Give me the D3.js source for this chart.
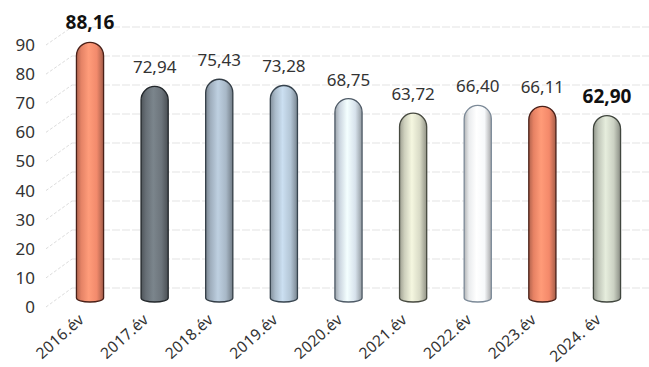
<!DOCTYPE html>
<html>
<head>
<meta charset="utf-8">
<script src="https://cdn.jsdelivr.net/npm/d3@7"></script>
<style>
  body { margin: 0; background: #fff; }
  svg { display: block; font-family: "Noto Sans", sans-serif; }
</style>
</head>
<body>
<svg id="chart" width="649" height="367"></svg>
<script>
// Adatok
const years = ["2016.év", "2017.év", "2018.év", "2019.év", "2020.év", "2021.év", "2022.év", "2023.év", "2024. év"];
const values = [88.16, 72.94, 75.43, 73.28, 68.75, 63.72, 66.40, 66.11, 62.90];
const labels = ["88,16", "72,94", "75,43", "73,28", "68,75", "63,72", "66,40", "66,11", "62,90"];
const bold = [true, false, false, false, false, false, false, false, true];
const fills = ["#f28a6c", "#6d757c", "#a8b8c7", "#b3c5d5", "#d7e2ec", "#d8dac6", "#f7f9fb", "#f4896a", "#cbd1c3"];
const strokes = ["#4a2018", "#22272b", "#333d46", "#37444f", "#4e5a66", "#474a40", "#7c8a98", "#4a2018", "#40463e"];
const yTicks = [0, 10, 20, 30, 40, 50, 60, 70, 80, 90];

const W = 649, H = 367;
const svg = d3.select("#chart");

const x = d3.scaleBand().domain(years).range([57.7, 639.3]).paddingInner(0.58).paddingOuter(0.29);
const yBar = d3.scaleLinear().domain([0, 90]).range([298, 37]);
const yLab = d3.scaleLinear().domain([0, 90]).range([307, 45]);   // eixo da frente
const yGrid = d3.scaleLinear().domain([0, 90]).range([288, 27]);  // parede do fundo

// gradientes (efeito cilindro)
const defs = svg.append("defs");
fills.forEach((c, i) => {
  const g = defs.append("linearGradient").attr("id", "g" + i)
    .attr("x1", "0%").attr("x2", "100%").attr("y1", "0%").attr("y2", "0%");
  const base = d3.color(c);
  g.append("stop").attr("offset", "0%").attr("stop-color", base.darker(0.9));
  g.append("stop").attr("offset", "18%").attr("stop-color", base.darker(0.15));
  g.append("stop").attr("offset", "45%").attr("stop-color", base.brighter(0.35));
  g.append("stop").attr("offset", "75%").attr("stop-color", base);
  g.append("stop").attr("offset", "100%").attr("stop-color", base.darker(1.1));
});

// grade
const grid = svg.append("g");
grid.selectAll("line.h").data(yTicks).enter().append("line")
  .attr("x1", 72).attr("x2", W)
  .attr("y1", d => yGrid(d)).attr("y2", d => yGrid(d))
  .attr("stroke", "#e3e3e3").attr("stroke-width", 1).attr("stroke-dasharray", "8,2");
grid.selectAll("line.d").data(yTicks).enter().append("line")
  .attr("x1", 46).attr("x2", 72)
  .attr("y1", d => yLab(d)).attr("y2", d => yGrid(d))
  .attr("stroke", "#dcdcdc").attr("stroke-width", 1).attr("stroke-dasharray", "3,2");

// eixo y
const yAxis = svg.append("g").attr("transform", "translate(35,0)")
  .call(d3.axisLeft(yLab).tickValues(yTicks).tickSize(0).tickPadding(0));
yAxis.select(".domain").remove();
yAxis.selectAll("text").attr("font-size", 17).attr("fill", "#333")
  .attr("font-family", "Noto Sans, sans-serif");

// cilindros
const bw = x.bandwidth();
const bars = svg.append("g");
bars.selectAll("path").data(values).enter().append("path")
  .attr("d", (v, i) => {
    const x0 = x(years[i]), x1 = x0 + bw, r = bw / 2;
    const top = yBar(v), base = yBar(0);
    return `M${x0},${base} L${x0},${top + r} A${r},${r} 0 0 1 ${x1},${top + r} L${x1},${base} A${r},4 0 0 1 ${x0},${base} Z`;
  })
  .attr("fill", (v, i) => `url(#g${i})`)
  .attr("stroke", (v, i) => strokes[i])
  .attr("stroke-width", 1.3);

// valores
svg.append("g").selectAll("text").data(values).enter().append("text")
  .attr("x", (v, i) => x(years[i]) + bw / 2)
  .attr("y", v => yBar(v) - 13)
  .attr("text-anchor", "middle")
  .attr("font-size", (v, i) => bold[i] ? 19 : 17)
  .attr("font-weight", (v, i) => bold[i] ? "bold" : "normal")
  .attr("fill", (v, i) => bold[i] ? "#111" : "#333")
  .text((v, i) => labels[i]);

// rótulos x
svg.append("g").selectAll("text").data(years).enter().append("text")
  .attr("transform", d => `translate(${x(d) + bw / 2 - 5},${321}) rotate(-42)`)
  .attr("text-anchor", "end")
  .attr("font-size", 15.5)
  .attr("letter-spacing", 0.3)
  .attr("fill", "#333")
  .text(d => d);
</script>
</body>
</html>
